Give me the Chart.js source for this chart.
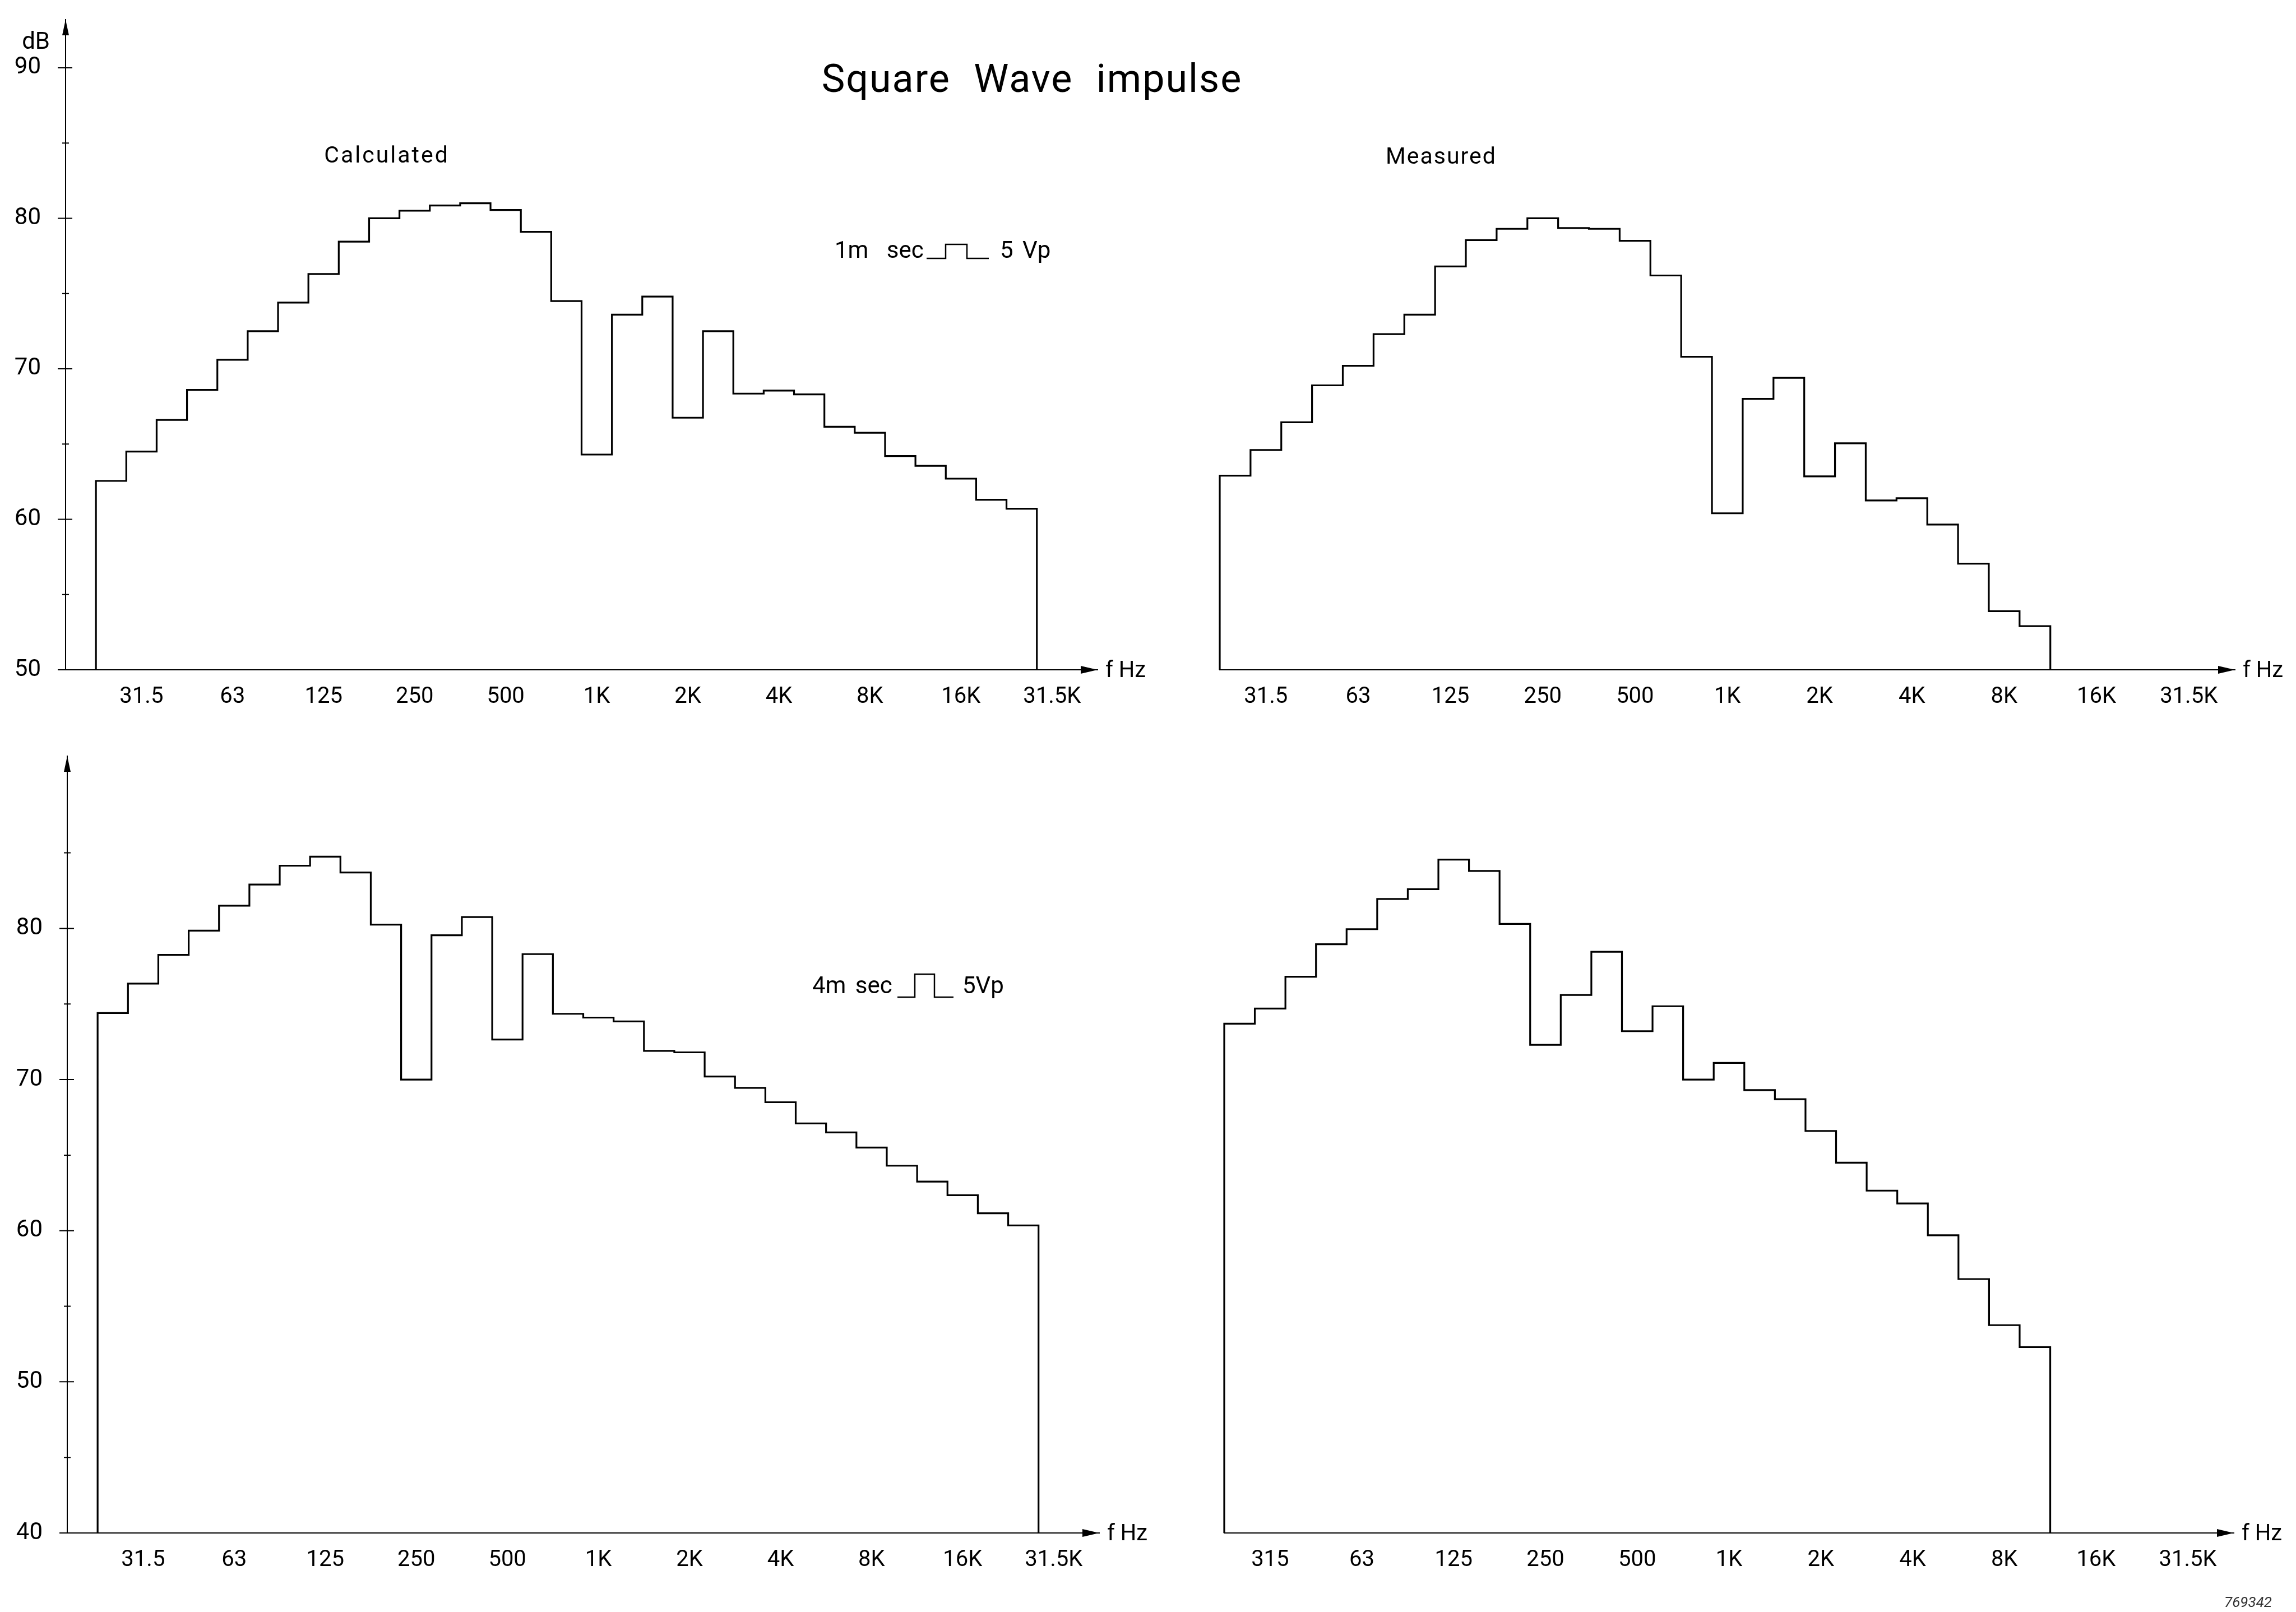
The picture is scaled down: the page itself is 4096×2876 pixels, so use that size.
<!DOCTYPE html>
<html>
<head>
<meta charset="utf-8">
<title>Square Wave impulse</title>
<script src="https://cdn.jsdelivr.net/npm/chart.js@4.4.1/dist/chart.umd.min.js"></script>
<style>
  html, body { margin: 0; padding: 0; background: #fff; }
  #page { position: relative; width: 4096px; height: 2876px; overflow: hidden; background: #fff;
          font-family: Roboto, 'DejaVu Sans', sans-serif; color: #000; }
  canvas { position: absolute; }
  .txt { position: absolute; line-height: 1; white-space: nowrap; transform: translate(0, -50%); }
  .ctr { transform: translate(-50%, -50%); }
  svg.pulse { position: absolute; left: 0; top: 0; overflow: visible; }
</style>
</head>
<body>
<div id="page">
  <canvas id="c_tl"></canvas>
  <canvas id="c_tr"></canvas>
  <canvas id="c_bl"></canvas>
  <canvas id="c_br"></canvas>

  <div class="txt ctr" style="left:1841px; top:140px; font-size:70px; letter-spacing:2px; word-spacing:22px;">Square Wave impulse</div>
  <div class="txt ctr" style="left:690px; top:276px; font-size:41px; letter-spacing:3px;">Calculated</div>
  <div class="txt ctr" style="left:2571px; top:278px; font-size:41px; letter-spacing:2px;">Measured</div>

  <div class="txt" style="left:1489px; top:446px; font-size:42px; word-spacing:22px;">1m sec</div>
  <div class="txt" style="left:1784px; top:446px; font-size:42px; word-spacing:6px;">5 Vp</div>
  <div class="txt" style="left:1449px; top:1758px; font-size:42px; word-spacing:6px;">4m sec</div>
  <div class="txt" style="left:1717px; top:1758px; font-size:42px;">5Vp</div>

  <svg class="pulse" width="4096" height="2876">
    <polyline points="1653,461 1687,461 1687,436 1725,436 1725,461 1764,461" fill="none" stroke="#000" stroke-width="2.5"/>
    <polyline points="1601,1779 1632,1779 1632,1738 1667,1738 1667,1779 1701,1779" fill="none" stroke="#000" stroke-width="2.5"/>
  </svg>

  <div class="txt" style="left:3968px; top:2858px; font-size:26px; font-style:italic; color:#333;">769342</div>
</div>

<script>
// third-octave bands, 25 Hz .. 31.5 kHz (last one only used for the axis label)
const bands = ['25','31.5','40','50','63','80','100','125','160','200','250','315','400','500','630','800',
  '1k','1.25k','1.6k','2k','2.5k','3.15k','4k','5k','6.3k','8k','10k','12.5k','16k','20k','25k','31.5k'];

const xTickBands  = ['31.5','63','125','250','500','1k','2k','4k','8k','16k','31.5k'];
const xTickLabels = ['31.5','63','125','250','500','1K','2K','4K','8K','16K','31.5K'];
const xTickLabelsBR = ['315','63','125','250','500','1K','2K','4K','8K','16K','31.5K'];

// dB per band, 1 ms square pulse 5 Vp
const calc1ms = [62.55, 64.5, 66.6, 68.6, 70.6, 72.5, 74.4, 76.3, 78.45, 80.0, 80.5, 80.85, 81.0, 80.55, 79.1, 74.5,
  64.3, 73.6, 74.8, 66.75, 72.5, 68.35, 68.55, 68.3, 66.15, 65.75, 64.2, 63.55, 62.7, 61.3, 60.7];
const meas1ms = [62.9, 64.6, 66.45, 68.9, 70.2, 72.3, 73.6, 76.8, 78.55, 79.3, 80.0, 79.35, 79.3, 78.5, 76.2, 70.8,
  60.4, 68.0, 69.4, 62.85, 65.05, 61.25, 61.4, 59.65, 57.05, 53.9, 52.9];

// dB per band, 4 ms square pulse 5 Vp
const calc4ms = [74.4, 76.35, 78.25, 79.85, 81.5, 82.9, 84.15, 84.75, 83.7, 80.25, 70.0, 79.55, 80.75, 72.65, 78.3, 74.35,
  74.1, 73.85, 71.9, 71.8, 70.2, 69.45, 68.5, 67.1, 66.5, 65.5, 64.3, 63.25, 62.35, 61.15, 60.35];
const meas4ms = [73.7, 74.7, 76.8, 78.95, 79.95, 81.95, 82.6, 84.55, 83.8, 80.3, 72.3, 75.6, 78.45, 73.2, 74.85, 70.0,
  71.1, 69.3, 68.7, 66.6, 64.5, 62.65, 61.8, 59.7, 56.8, 53.75, 52.3];

const yTicksTop = [50, 60, 70, 80, 90];
const yMinorTop = [55, 65, 75, 85];
const yTicksBottom = [40, 50, 60, 70, 80];
const yMinorBottom = [45, 55, 65, 75, 85];

const FONT = 'Roboto';

// step outline: up from the base at the first band, down to the base after the last
function stepPoints(values, base) {
  const pts = [{ x: 0, y: base }];
  values.forEach((v, i) => pts.push({ x: i, y: v }));
  pts.push({ x: values.length, y: base });
  return pts;
}

const decor = {
  id: 'decor',
  afterDraw(chart, args, o) {
    const { ctx, chartArea: a, scales: { y } } = chart;
    ctx.save();
    ctx.fillStyle = '#000';
    ctx.strokeStyle = '#000';

    // arrow on the frequency axis
    ctx.beginPath();
    ctx.moveTo(a.right, a.bottom);
    ctx.lineTo(a.right - 30, a.bottom - 7);
    ctx.lineTo(a.right - 30, a.bottom + 7);
    ctx.closePath();
    ctx.fill();

    if (o.yAxis) {
      ctx.beginPath();
      ctx.moveTo(a.left, a.top);
      ctx.lineTo(a.left - 6, a.top + 28);
      ctx.lineTo(a.left + 6, a.top + 28);
      ctx.closePath();
      ctx.fill();

      ctx.lineWidth = 2;
      ctx.beginPath();
      o.major.forEach(v => {
        const py = y.getPixelForValue(v);
        ctx.moveTo(a.left - 14, py); ctx.lineTo(a.left + 12, py);
      });
      o.minor.forEach(v => {
        const py = y.getPixelForValue(v);
        ctx.moveTo(a.left - 6, py); ctx.lineTo(a.left + 6, py);
      });
      ctx.stroke();
    }

    ctx.font = '40px ' + FONT;
    ctx.textBaseline = 'middle';
    ctx.textAlign = 'left';
    ctx.fillText('f Hz', a.right + 14, a.bottom + 3);

    if (o.unit) {
      ctx.font = '42px ' + FONT;
      ctx.textAlign = 'right';
      ctx.fillText(o.unit, a.left - 28, y.getPixelForValue(o.unitAt) - 44);
    }
    ctx.restore();
  }
};

function panel(id, box, area, cfg) {
  const canvas = document.getElementById(id);
  canvas.width = box.w;
  canvas.height = box.h;
  canvas.style.left = box.left + 'px';
  canvas.style.top = box.top + 'px';

  const tickPos = xTickBands.map(b => bands.indexOf(b) + 0.5);
  const showY = !!cfg.yTicks;

  new Chart(canvas, {
    type: 'line',
    data: {
      datasets: [{
        data: stepPoints(cfg.values, cfg.yMin),
        stepped: 'before',
        borderColor: '#000',
        borderWidth: 3.2,
        pointRadius: 0,
        fill: false,
        clip: false
      }]
    },
    options: {
      responsive: false,
      animation: false,
      devicePixelRatio: 1,
      layout: {
        autoPadding: false,
        padding: {
          left: 0,
          top: area.top - box.top,
          right: box.left + box.w - area.right,
          bottom: 0
        }
      },
      plugins: {
        legend: { display: false },
        tooltip: { enabled: false },
        decor: {
          yAxis: showY,
          major: cfg.yTicks || [],
          minor: cfg.yMinor || [],
          unit: cfg.unit,
          unitAt: 90
        }
      },
      scales: {
        x: {
          type: 'linear',
          min: cfg.xMin,
          max: 33,
          grid: { display: false },
          border: { display: true, color: '#000', width: 2 },
          ticks: {
            color: '#000',
            font: { family: FONT, size: 40 },
            padding: 17,
            maxRotation: 0,
            minRotation: 0,
            autoSkip: false,
            callback: (v, i) => cfg.xLabels[i]
          },
          afterBuildTicks: s => { s.ticks = tickPos.map(v => ({ value: v })); },
          afterFit: s => { s.height = box.top + box.h - area.bottom; }
        },
        y: {
          type: 'linear',
          min: cfg.yMin,
          max: cfg.yMax,
          grid: { display: false },
          border: { display: showY, color: '#000', width: 2 },
          ticks: {
            display: showY,
            color: '#000',
            font: { family: FONT, size: 42 },
            padding: 36,
            callback: v => String(v)
          },
          afterBuildTicks: s => { s.ticks = (cfg.yTicks || []).map(v => ({ value: v })); },
          afterFit: s => { s.width = area.left - box.left; }
        }
      }
    },
    plugins: [decor]
  });
}

// canvases start above their panels so the axis label padding never pushes the plot area down
panel('c_tl', { left: 0, top: -40, w: 2070, h: 1340 },
  { left: 117, right: 1958, top: 35, bottom: 1195 },
  { values: calc1ms, xMin: -1, yMin: 50, yMax: 93.2, yTicks: yTicksTop, yMinor: yMinorTop, unit: 'dB', xLabels: xTickLabels });

panel('c_tr', { left: 2070, top: -40, w: 2026, h: 1340 },
  { left: 2176, right: 3987, top: 35, bottom: 1195 },
  { values: meas1ms, xMin: 0, yMin: 50, yMax: 93.2, xLabels: xTickLabels });

panel('c_bl', { left: 0, top: 1270, w: 2070, h: 1606 },
  { left: 120, right: 1961, top: 1349, bottom: 2735 },
  { values: calc4ms, xMin: -1, yMin: 40, yMax: 91.4, yTicks: yTicksBottom, yMinor: yMinorBottom, xLabels: xTickLabels });

panel('c_br', { left: 2070, top: 1270, w: 2026, h: 1606 },
  { left: 2184, right: 3985, top: 1349, bottom: 2735 },
  { values: meas4ms, xMin: 0, yMin: 40, yMax: 91.4, xLabels: xTickLabelsBR });
</script>
</body>
</html>
